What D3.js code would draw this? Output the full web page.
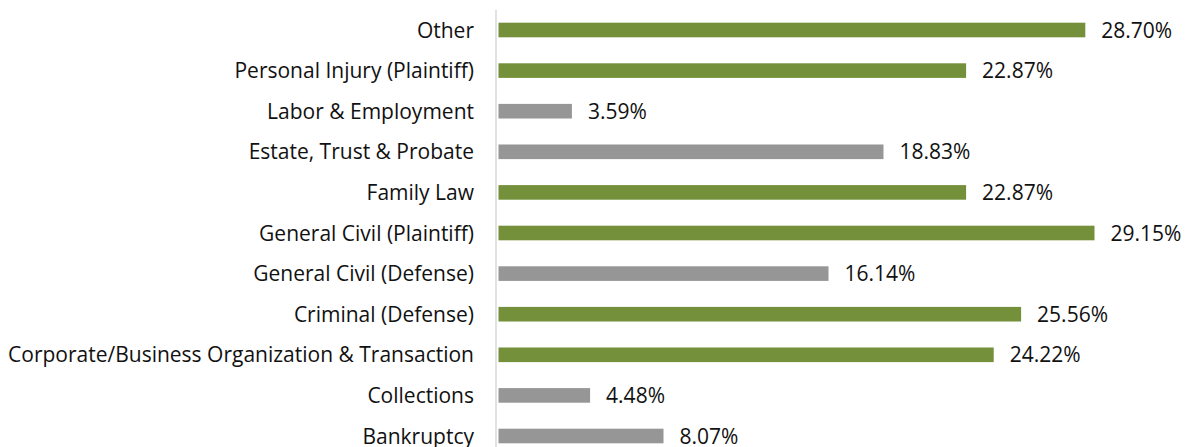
<!DOCTYPE html>
<html>
<head>
<meta charset="utf-8">
<script src="https://cdn.jsdelivr.net/npm/d3@7"></script>
<style>
  body { margin: 0; background: #fff; }
  svg { display: block; }
</style>
</head>
<body>
<svg id="canvas"></svg>
<script>
// ===== Data =====
const categories = [
  "Other",
  "Personal Injury (Plaintiff)",
  "Labor & Employment",
  "Estate, Trust & Probate",
  "Family Law",
  "General Civil (Plaintiff)",
  "General Civil (Defense)",
  "Criminal (Defense)",
  "Corporate/Business Organization & Transaction",
  "Collections",
  "Bankruptcy"
];
const values = [28.70, 22.87, 3.59, 18.83, 22.87, 29.15, 16.14, 25.56, 24.22, 4.48, 8.07];
const highlighted = [true, true, false, false, true, true, false, true, true, false, false];

// ===== Basis SVG =====
const width = 1186;
const height = 447;
const svg = d3.select("#canvas")
  .attr("width", width)
  .attr("height", height);

const axisX = 496;
const x = d3.scaleLinear()
  .domain([0, 29.15])
  .range([axisX + 2.5, 1094.5]);

const y = d3.scaleBand()
  .domain(categories)
  .range([9.7, 456.3])
  .paddingInner(0.64)
  .paddingOuter(0.32);

const fontFamily = "'Open Sans', sans-serif";
const fontSize = 21;

// Axis line
svg.append("line")
  .attr("x1", axisX).attr("x2", axisX)
  .attr("y1", 10).attr("y2", height)
  .attr("stroke", "#d9d9d9")
  .attr("stroke-width", 1.5);

// Bars
svg.selectAll(".bar")
  .data(categories)
  .enter()
  .append("rect")
  .attr("class", "bar")
  .attr("x", x(0))
  .attr("y", d => y(d))
  .attr("width", (d, i) => x(values[i]) - x(0))
  .attr("height", y.bandwidth())
  .attr("fill", (d, i) => highlighted[i] ? "#75903b" : "#969696");

// Category labels
svg.selectAll(".cat")
  .data(categories)
  .enter()
  .append("text")
  .attr("class", "cat")
  .attr("x", 474)
  .attr("y", d => y(d) + y.bandwidth() / 2)
  .attr("dy", "0.36em")
  .attr("text-anchor", "end")
  .attr("font-family", fontFamily)
  .attr("font-size", fontSize + "px")
  .attr("fill", "#111")
  .text(d => d);

// Value labels
svg.selectAll(".val")
  .data(categories)
  .enter()
  .append("text")
  .attr("class", "val")
  .attr("x", (d, i) => x(values[i]) + 16)
  .attr("y", d => y(d) + y.bandwidth() / 2)
  .attr("dy", "0.36em")
  .attr("font-family", fontFamily)
  .attr("font-size", fontSize + "px")
  .attr("fill", "#111")
  .text((d, i) => values[i].toFixed(2) + "%");
</script>
</body>
</html>
